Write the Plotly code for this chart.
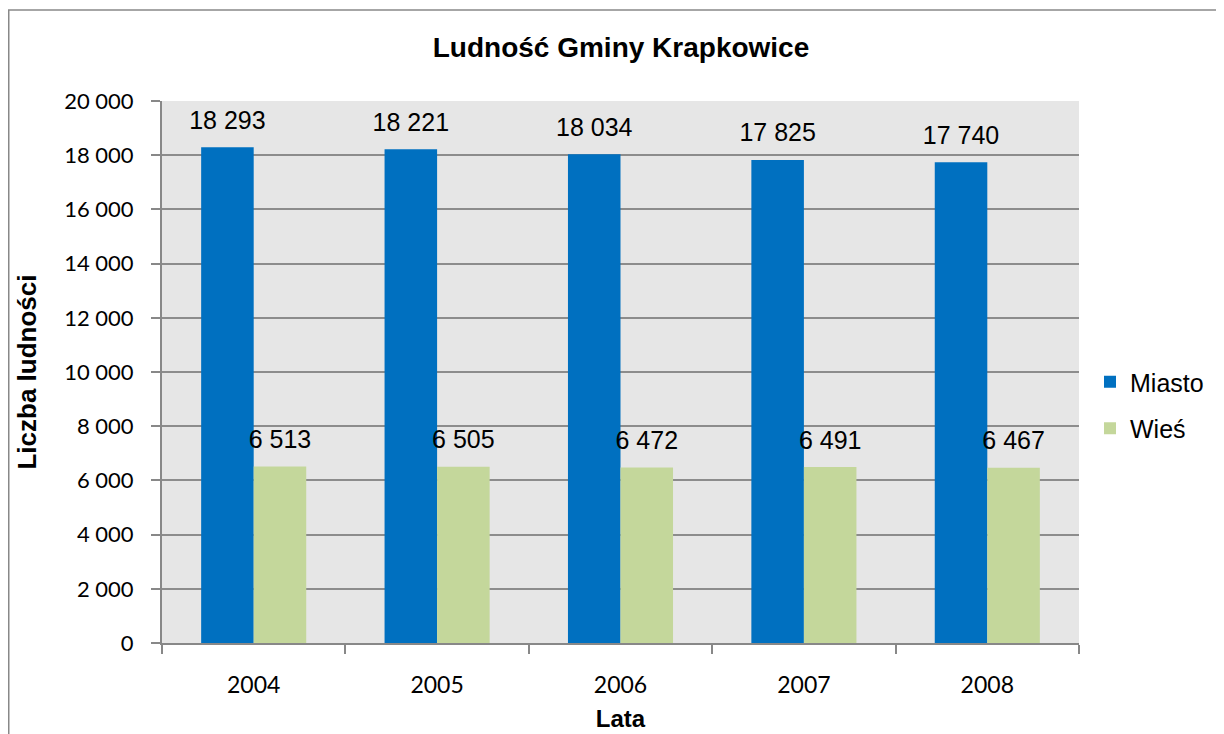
import plotly.graph_objects as go

years = ["2004", "2005", "2006", "2007", "2008"]
miasto = [18293, 18221, 18034, 17825, 17740]
wies = [6513, 6505, 6472, 6491, 6467]
series_names = ["Miasto", "Wieś"]
colors = ["#0070C0", "#C4D79B"]
yticks = [0, 2000, 4000, 6000, 8000, 10000, 12000, 14000, 16000, 18000, 20000]

# the page body has an 8px margin, so the figure is offset by 8px
W, H = 1216, 726
L, R, T, B = 154, 145, 93, 91
pw, ph = W - L - R, H - T - B
GAP = 0.427


def fmt(v):
    return f"{v:,}".replace(",", " ")


fig = go.Figure()
for name, vals, col in zip(series_names, [miasto, wies], colors):
    fig.add_trace(go.Bar(
        x=years, y=vals, name=name, marker=dict(color=col, line=dict(width=0)),
        offsetgroup=name, legendgroup=name, hoverinfo="x+y",
    ))
for name, vals in zip(series_names, [miasto, wies]):
    fig.add_trace(go.Scatter(
        x=years, y=vals, mode="markers+text", text=[fmt(v) for v in vals],
        textposition="top center", offsetgroup=name, showlegend=False,
        marker=dict(size=18, opacity=0), cliponaxis=False, hoverinfo="skip",
        textfont=dict(family="Liberation Sans, Arial", size=25, color="#000000"),
    ))

fig.update_layout(
    width=W, height=H,
    margin=dict(l=L, r=R, t=T, b=B, autoexpand=False),
    paper_bgcolor="white",
    plot_bgcolor="#E6E6E6",
    barmode="group",
    bargap=GAP,
    bargroupgap=0,
    scattermode="group",
    scattergap=GAP,
    separators=", ",
    title=dict(text="<b>Ludność Gminy Krapkowice</b>", x=(621 - 8) / W, xanchor="center",
               y=1 - 39 / H, yanchor="middle",
               font=dict(family="Liberation Sans, Arial", size=28, color="#000000")),
    font=dict(family="Liberation Sans, Arial", color="#000000"),
    showlegend=True,
    legend=dict(x=(1082 - L) / pw, y=1 - (351 - T) / ph, xanchor="left", yanchor="top",
                font=dict(family="Liberation Sans, Arial", size=25, color="#000000"),
                tracegroupgap=11, bgcolor="rgba(0,0,0,0)", itemsizing="constant"),
)

fig.update_xaxes(
    showgrid=False, showline=True, linecolor="#888888", linewidth=2,
    ticks="outside", ticklen=9, tickcolor="#888888", tickwidth=2,
    tickson="boundaries", automargin=False,
    ticklabelstandoff=20,
    tickfont=dict(family="Lato, Carlito, sans-serif", size=23, color="#000000"),
    title=dict(text="<b>Lata</b>", font=dict(family="Liberation Sans, Arial", size=24, color="#000000"), standoff=14),
)
fig.update_yaxes(
    range=[0, 20000], tickvals=yticks, ticktext=[fmt(v) for v in yticks],
    showgrid=True, gridcolor="#8C8C8C", gridwidth=1.5,
    showline=True, linecolor="#888888", linewidth=2,
    ticks="outside", ticklen=9, tickcolor="#888888", tickwidth=2,
    ticklabelstandoff=13, automargin=False,
    tickfont=dict(family="Lato, Carlito, sans-serif", size=22, color="#000000"),
    title=dict(text="<b>Liczba ludności</b>", font=dict(family="Liberation Sans, Arial", size=26, color="#000000"), standoff=20),
    zeroline=False,
)

# Chart frame (left and top edges visible)
fig.add_shape(type="line", xref="paper", yref="paper",
              x0=(0 - L) / pw, x1=(0 - L) / pw, y0=1 + (T - 2) / ph, y1=-(B + 5) / ph,
              line=dict(color="#888888", width=3))
fig.add_shape(type="line", xref="paper", yref="paper",
              x0=(0 - L) / pw, x1=(W + 5 - L) / pw, y0=1 + (T - 2) / ph, y1=1 + (T - 2) / ph,
              line=dict(color="#888888", width=1.5))

fig.write_html("out.html")
